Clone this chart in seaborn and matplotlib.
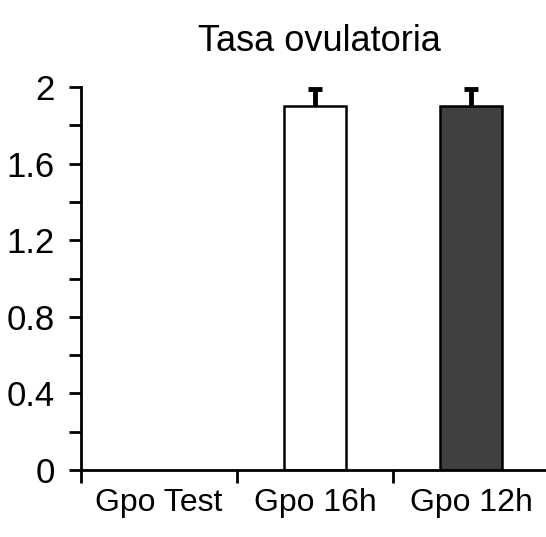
import matplotlib
matplotlib.use("Agg")
import matplotlib.pyplot as plt
import seaborn as sns
import numpy as np

groups = ["Gpo Test", "Gpo 16h", "Gpo 12h"]
tasa = [0.0, 1.9, 1.9]
error_sup = [np.nan, 0.09, 0.09]
colores = ["#ffffff", "#ffffff", "#404040"]

sns.set_style("ticks")
plt.rcParams['font.family'] = ['Liberation Sans', 'DejaVu Sans']

fig = plt.figure(figsize=(5.46, 5.37), dpi=100)
ax = fig.add_axes([81/546, 1 - 470/537, 468/546, 383/537])

sns.barplot(x=groups, y=tasa, hue=groups, palette=colores, legend=False,
            width=0.4, edgecolor="black", linewidth=1.8, ax=ax)
# la barra de Gpo Test vale 0: sin borde
for p, v in zip(ax.patches, tasa):
    if v == 0:
        p.set_linewidth(0)

x_pos = np.arange(len(groups))
low = [0 for _ in error_sup]
eb = ax.errorbar(x_pos, tasa, yerr=[low, error_sup], fmt="none", ecolor="black",
                 elinewidth=3.5, capsize=5, capthick=3.5)
eb[1][0].set_visible(False)  # solo cap superior

ax.set_ylim(0, 2)
ax.set_xlim(-0.5, 2.5)
ax.set_yticks([0, 0.4, 0.8, 1.2, 1.6, 2])
ax.set_yticklabels(["0", "0.4", "0.8", "1.2", "1.6", "2"])
ax.set_yticks([0.2, 0.6, 1.0, 1.4, 1.8], minor=True)
ax.tick_params(axis="y", which="both", length=9, width=2, labelsize=25, pad=10,
               direction="out", colors="black")

ax.set_xticks([-0.5, 0.5, 1.5])
ax.set_xticklabels(["", "", ""])
ax.set_xticks(x_pos, minor=True)
ax.set_xticklabels(groups, minor=True)
ax.tick_params(axis="x", which="major", length=9, width=2, direction="out", colors="black")
ax.tick_params(axis="x", which="minor", length=0, labelsize=23, pad=13, labelcolor="black")

for s in ["top", "right"]:
    ax.spines[s].set_visible(False)
for s in ["left", "bottom"]:
    ax.spines[s].set_linewidth(2)
    ax.spines[s].set_color("black")
    ax.spines[s].set_clip_on(False)

ax.set_xlabel("")
ax.set_ylabel("")
ax.set_title("Tasa ovulatoria", fontsize=26, pad=26, color="black", x=0.51)

fig.savefig("out.png", dpi=100)
